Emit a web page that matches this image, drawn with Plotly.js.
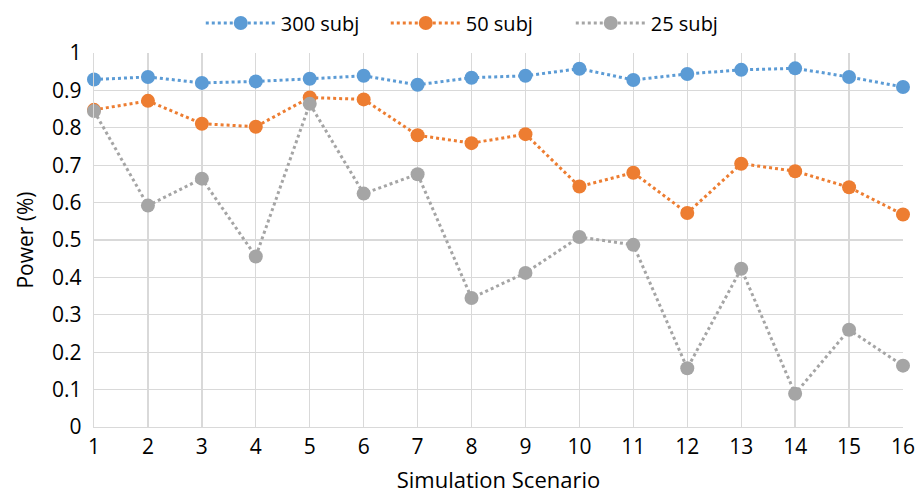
<!DOCTYPE html>
<html>
<head>
<meta charset="utf-8">
<script src="https://cdn.plot.ly/plotly-3.0.1.min.js"></script>
<style>html,body{margin:0;padding:0;background:#fff;}#chart{width:917px;height:494px;}</style>
</head>
<body>
<div id="chart"></div>
<script>
const scenarios = [1,2,3,4,5,6,7,8,9,10,11,12,13,14,15,16];
const power300 = [0.929,0.936,0.920,0.924,0.931,0.939,0.915,0.934,0.939,0.958,0.928,0.944,0.955,0.959,0.936,0.909];
const power50  = [0.848,0.872,0.811,0.803,0.881,0.876,0.780,0.759,0.783,0.643,0.680,0.572,0.704,0.684,0.641,0.568];
const power25  = [0.845,0.592,0.664,0.456,0.864,0.624,0.676,0.345,0.412,0.508,0.487,0.157,0.423,0.089,0.260,0.164];
const seriesNames = ['300 subj','50 subj','25 subj'];
const colors = ['#5B9BD5','#ED7D31','#A5A5A5'];

const font = '"Open Sans", "Noto Sans", "Liberation Sans", sans-serif';
function tr(y, i){
  return {x: scenarios, y: y, name: seriesNames[i], type:'scatter', mode:'lines+markers',
    line:{color:colors[i], width:3, dash:'dot'},
    marker:{color:colors[i], size:14},
    cliponaxis:false};
}
const data = [tr(power300,0), tr(power50,1), tr(power25,2)];
const layout = {
  width:917, height:494,
  margin:{l:94, r:14, t:53, b:67},
  paper_bgcolor:'#fff', plot_bgcolor:'#fff',
  font:{family:font, size:21, color:'#000'},
  showlegend:true,
  legend:{orientation:'h', x:0.475, xanchor:'center', y:0.993, yanchor:'top', yref:'container',
    font:{size:20}, itemwidth:70, entrywidth:100, traceorder:'normal'},
  xaxis:{range:[1,16], tickvals:scenarios, ticktext:scenarios.map(String),
    showgrid:true, gridcolor:'#d9d9d9', gridwidth:1.3,
    showline:true, linecolor:'#d9d9d9', linewidth:1.3, zeroline:false, ticks:'',
    tickfont:{size:21},
    title:{text:'Simulation Scenario', font:{size:22}, standoff:16}},
  yaxis:{range:[0,1], dtick:0.1, tick0:0,
    showgrid:true, gridcolor:'#d9d9d9', gridwidth:1.3,
    showline:true, linecolor:'#d9d9d9', linewidth:1.3, zeroline:false, ticks:'',
    tickfont:{size:21}, ticklabelstandoff:7,
    title:{text:'Power (%)', font:{size:21}, standoff:12}}
};
Plotly.newPlot('chart', data, layout, {displayModeBar:false, staticPlot:true});
</script>
</body>
</html>
